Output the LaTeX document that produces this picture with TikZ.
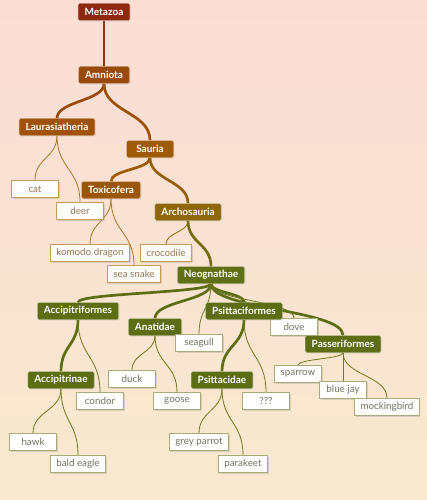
\documentclass[tikz,border=0pt]{standalone}
\usepackage{fontspec}
\setmainfont{Lato}
\usetikzlibrary{shadows,calc}
\pgfdeclarelayer{bglayer}
\pgfdeclarelayer{edgelayer}
\pgfsetlayers{bglayer,edgelayer,main}
\definecolor{bgtop}{RGB}{251,221,214}
\definecolor{bgbot}{RGB}{248,233,206}
\definecolor{cMeta}{RGB}{142,40,16}
\definecolor{cAmni}{RGB}{154,74,12}
\definecolor{cLaur}{RGB}{160,82,10}
\definecolor{cSaur}{RGB}{158,90,6}
\definecolor{cToxi}{RGB}{156,86,7}
\definecolor{cArch}{RGB}{140,104,10}
\definecolor{cNeog}{RGB}{97,112,20}
\definecolor{cGreen}{RGB}{93,109,19}
\definecolor{leafTan}{RGB}{200,156,88}
\definecolor{leafTanText}{RGB}{150,118,80}
\definecolor{leafOl}{RGB}{168,172,120}
\definecolor{leafOlText}{RGB}{110,118,96}
\definecolor{eTan}{RGB}{168,118,40}
\definecolor{eOl}{RGB}{110,120,30}
\tikzset{
  inner/.style={draw=white!60!#1, line width=0.4pt, fill=#1, text=white, rounded corners=1.5pt,
    minimum width=47pt, minimum height=17pt, inner xsep=6.5pt, inner ysep=0pt,
    font=\fontsize{10}{12}\selectfont\bfseries,
    drop shadow={shadow xshift=0.8pt, shadow yshift=-0.8pt, opacity=0.25}},
  leaf/.style={draw=#1, line width=0.8pt, fill=white, minimum width=47pt, minimum height=17pt,
    inner xsep=6pt, inner ysep=0pt, font=\fontsize{9.8}{11}\selectfont,
    drop shadow={shadow xshift=1pt, shadow yshift=-1pt, opacity=0.25}},
  tanleaf/.style={leaf=leafTan, text=leafTanText},
  olleaf/.style={leaf=leafOl, text=leafOlText},
  thickedge/.style={draw=#1, line width=2.7pt},
  thinedge/.style={draw=#1, line width=0.8pt},
}
\newcommand\treeedge[3]{%
  \draw[#1] let \p1=(#2.south), \p2=(#3.north) in
    (\p1) .. controls (\x1,{0.5*\y1+0.5*\y2}) and (\x2,{0.5*\y1+0.5*\y2}) .. (\p2);}
\begin{document}
\begin{tikzpicture}[x=1pt,y=1pt]
\useasboundingbox (0,0) rectangle (427,-500);
\begin{pgfonlayer}{bglayer}
\shade[top color=bgtop, bottom color=bgbot] (0,0) rectangle (427,-500);
\end{pgfonlayer}
% nodes
\node[inner=cMeta] (metazoa) at (104,-12) {Metazoa};
\node[inner=cAmni] (amniota) at (104,-75) {Amniota};
\node[inner=cLaur] (laur) at (57,-127) {Laurasiatheria};
\node[inner=cSaur] (sauria) at (150,-149) {Sauria};
\node[tanleaf] (cat) at (35,-189) {cat};
\node[tanleaf] (deer) at (80,-211) {deer};
\node[inner=cToxi] (toxi) at (111,-190) {Toxicofera};
\node[inner=cArch] (arch) at (188,-212) {Archosauria};
\node[tanleaf] (komodo) at (90,-253) {komodo dragon};
\node[tanleaf] (croc) at (166,-253) {crocodile};
\node[tanleaf] (snake) at (134,-274) {sea snake};
\node[inner=cNeog] (neog) at (211,-275) {Neognathae};
\node[inner=cGreen] (accf) at (78,-311) {Accipitriformes};
\node[inner=cGreen] (anat) at (155,-327) {Anatidae};
\node[olleaf] (seagull) at (199,-343) {seagull};
\node[olleaf] (dove) at (294,-327) {dove};
\node[inner=cGreen] (psitf) at (244,-311) {Psittaciformes};
\node[inner=cGreen] (passf) at (343,-344) {Passeriformes};
\node[inner=cGreen] (acci) at (61,-380) {Accipitrinae};
\node[olleaf] (duck) at (132,-379) {duck};
\node[inner=cGreen] (psitd) at (222,-380) {Psittacidae};
\node[olleaf] (sparrow) at (298,-374) {sparrow};
\node[olleaf] (condor) at (100,-401) {condor};
\node[olleaf] (goose) at (177,-401) {goose};
\node[olleaf] (qqq) at (266,-401) {???};
\node[olleaf] (bluejay) at (343,-390) {blue jay};
\node[olleaf] (mock) at (387,-407) {mockingbird};
\node[olleaf] (hawk) at (33,-442) {hawk};
\node[olleaf] (greyp) at (199,-442) {grey parrot};
\node[olleaf] (bald) at (78,-464) {bald eagle};
\node[olleaf] (parak) at (243,-464) {parakeet};
% edges (behind nodes)
\begin{pgfonlayer}{edgelayer}
\treeedge{thickedge=cMeta!60!cAmni}{metazoa}{amniota}
\treeedge{thickedge=cAmni}{amniota}{laur}
\treeedge{thickedge=cAmni!60!cSaur}{amniota}{sauria}
\treeedge{thinedge=eTan}{laur}{cat}
\treeedge{thinedge=eTan}{laur}{deer}
\treeedge{thickedge=cSaur}{sauria}{toxi}
\treeedge{thickedge=cSaur!50!cArch}{sauria}{arch}
\treeedge{thinedge=eTan}{toxi}{komodo}
\treeedge{thinedge=eTan}{toxi}{snake}
\treeedge{thinedge=cArch}{arch}{croc}
\treeedge{thickedge=cArch!50!cNeog}{arch}{neog}
\treeedge{thickedge=cGreen}{neog}{accf}
\treeedge{thickedge=cGreen}{neog}{anat}
\treeedge{thickedge=cGreen}{neog}{psitf}
\treeedge{thickedge=cGreen}{neog}{passf}
\treeedge{thinedge=eOl}{neog}{seagull}
\treeedge{thinedge=eOl}{neog}{dove}
\treeedge{thickedge=cGreen}{accf}{acci}
\treeedge{thinedge=eOl}{accf}{condor}
\treeedge{thinedge=eOl}{acci}{hawk}
\treeedge{thinedge=eOl}{acci}{bald}
\treeedge{thinedge=eOl}{anat}{duck}
\treeedge{thinedge=eOl}{anat}{goose}
\treeedge{thickedge=cGreen}{psitf}{psitd}
\treeedge{thinedge=eOl}{psitf}{qqq}
\treeedge{thinedge=eOl}{psitd}{greyp}
\treeedge{thinedge=eOl}{psitd}{parak}
\treeedge{thinedge=eOl}{passf}{sparrow}
\treeedge{thinedge=eOl}{passf}{bluejay}
\treeedge{thinedge=eOl}{passf}{mock}
\end{pgfonlayer}
\end{tikzpicture}
\end{document}
